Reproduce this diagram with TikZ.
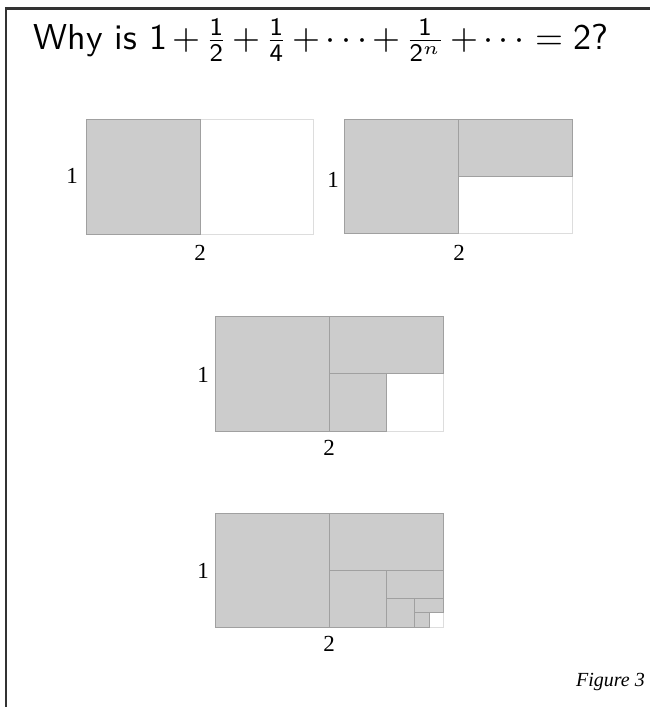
\documentclass[tikz,border=0pt]{standalone}
\usepackage{amsmath}
\usepackage{fontspec}
\setmainfont{Liberation Serif}
\newcommand{\pl}{\mathbin{\textsf{+}}}
\newcommand{\eqs}{\mathrel{\textsf{=}}}
\begin{document}
\begin{tikzpicture}[x=1pt,y=-1pt,
  sq/.style={fill=boxgray,draw=linegray,line width=0.8pt},
  wh/.style={fill=white,draw=edgegray,line width=0.8pt},
  lab/.style={font=\fontsize{23}{25}\selectfont,inner sep=0pt}]
\definecolor{boxgray}{HTML}{CCCCCC}
\definecolor{linegray}{HTML}{A0A0A0}
\definecolor{edgegray}{HTML}{DDDDDD}
\useasboundingbox (0,0) rectangle (650,707);
\fill[white] (0,0) rectangle (650,707);
\draw[line width=2.2pt,color=black!80] (6,707) -- (6,8.5) -- (650,8.5);
% title
\node[inner sep=0pt,anchor=west,scale=3.6] (title) at (33,40) {\fontsize{10}{12}\selectfont\sffamily\medmuskip=2.5mu\thickmuskip=5mu Why is $\mathsf{1}\pl\tfrac{\mathsf{1}}{\mathsf{2}}\pl\tfrac{\mathsf{1}}{\mathsf{4}}\pl\cdots\pl\tfrac{\mathsf{1}}{\mathsf{2}^n}\pl\cdots\eqs\mathsf{2}$?};
% panel 1
\draw[wh] (86,119) rectangle (313,234);
\draw[sq] (86,119) rectangle (200,234);
\node[lab] (a1) at (72,176) {1};
\node[lab] (a2) at (200,253) {2};
% panel 2
\draw[wh] (344,119) rectangle (572,233);
\draw[sq] (344,119) rectangle (458,233);
\draw[sq] (458,119) rectangle (572,176);
\node[lab] (b1) at (333,180) {1};
\node[lab] (b2) at (459,253) {2};
% panel 3
\draw[wh] (215,316) rectangle (443,431);
\draw[sq] (215,316) rectangle (329,431);
\draw[sq] (329,316) rectangle (443,373);
\draw[sq] (329,373) rectangle (386,431);
\node[lab] (c1) at (203,375) {1};
\node[lab] (c2) at (329,448) {2};
% panel 4
\draw[wh] (215,513) rectangle (443,627);
\draw[sq] (215,513) rectangle (329,627);
\draw[sq] (329,513) rectangle (443,570);
\draw[sq] (329,570) rectangle (386,627);
\draw[sq] (386,570) rectangle (443,598);
\draw[sq] (386,598) rectangle (414,627);
\draw[sq] (414,598) rectangle (443,612);
\draw[sq] (414,612) rectangle (429,627);
\node[lab] (d1) at (203,571) {1};
\node[lab] (d2) at (329,644) {2};
% caption
\node[inner sep=0pt,anchor=east] (fig) at (645,682) {\fontsize{20}{22}\selectfont\itshape Figure 3};
\end{tikzpicture}
\end{document}
